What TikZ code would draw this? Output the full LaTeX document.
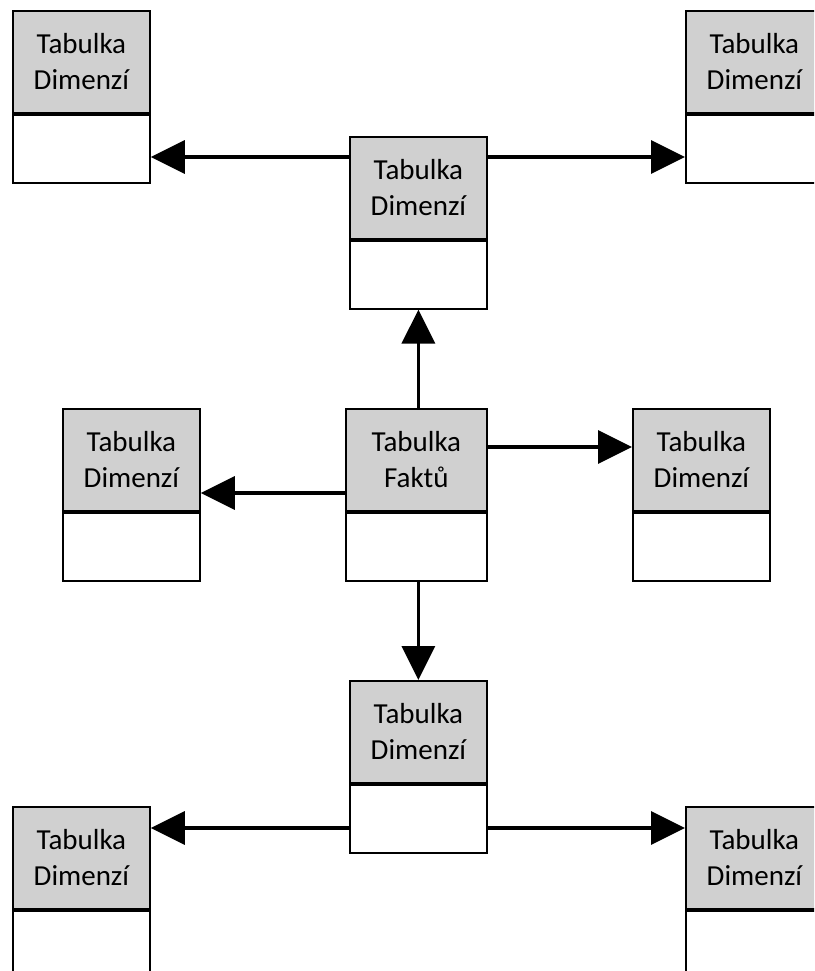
\documentclass[tikz,border=0pt]{standalone}
\usepackage{fontspec}
\setmainfont{Carlito}
\usetikzlibrary{arrows.meta,calc}
\definecolor{hgray}{RGB}{208,208,208}
\tikzset{
  hdr/.style={draw=black, fill=hgray, line width=1.8pt, minimum width=#1, minimum height=102pt,
    inner sep=0pt, align=center, font=\fontsize{29}{36}\selectfont, anchor=north west},
  hdr/.default=137pt,
  bdy/.style={draw=black, fill=white, line width=1.8pt, minimum width=#1, minimum height=68pt,
    inner sep=0pt, anchor=north},
  bdy/.default=137pt,
  arr/.style={line width=3.5pt, -{Triangle[length=34pt,width=33pt]}}
}
\newcommand\dimbox[5][137pt]{%
  \node[hdr=#1] (#2h) at (#3,#4) {#5};
  \node[bdy=#1] (#2b) at (#2h.south) {};
}
\begin{document}
\begin{tikzpicture}[x=1pt,y=-1pt]
\useasboundingbox (0,0) rectangle (814,971);
\clip (0,0) rectangle (814,971);
\dimbox{tl}{12}{10}{Tabulka\\Dimenzí}
\dimbox{tr}{685}{10}{Tabulka\\Dimenzí}
\dimbox{tc}{349}{136}{Tabulka\\Dimenzí}
\dimbox[141pt]{f}{345}{408}{Tabulka\\Faktů}
\dimbox{ml}{62}{408}{Tabulka\\Dimenzí}
\dimbox{mr}{632}{408}{Tabulka\\Dimenzí}
\dimbox{bc}{349}{680}{Tabulka\\Dimenzí}
\dimbox{bl}{12}{806}{Tabulka\\Dimenzí}
\dimbox{br}{685}{806}{Tabulka\\Dimenzí}
\coordinate (ya) at (0,157);
\coordinate (yb) at (0,493);
\coordinate (yc) at (0,447);
\coordinate (yd) at (0,828);
\draw[arr] (tch.west |- ya) -- (tlb.east |- ya);
\draw[arr] (tch.east |- ya) -- (trb.west |- ya);
\draw[arr] (fh.north -| tcb.south) -- (tcb.south);
\draw[arr] (fh.west |- yb) -- (mlh.east |- yb);
\draw[arr] (fh.east |- yc) -- (mrh.west |- yc);
\draw[arr] (fb.south -| bch.north) -- (bch.north);
\draw[arr] (bcb.west |- yd) -- (blh.east |- yd);
\draw[arr] (bcb.east |- yd) -- (brh.west |- yd);
\end{tikzpicture}
\end{document}
